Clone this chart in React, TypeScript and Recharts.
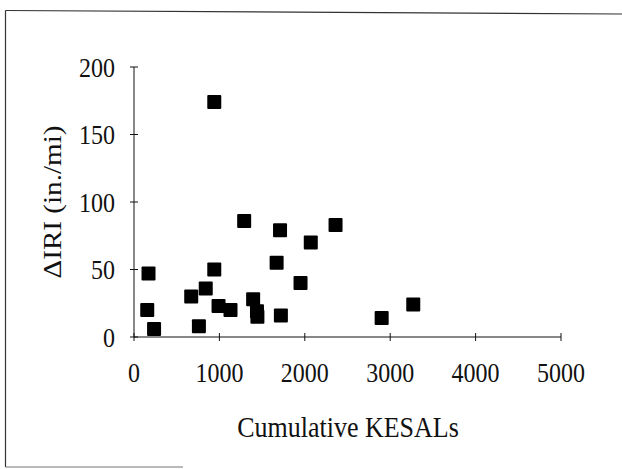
import { ScatterChart, Scatter, XAxis, YAxis, Label } from 'recharts';

const kesals = [170, 155, 235, 670, 760, 840, 940, 990, 1130, 1290, 1395, 1440, 1445, 1670, 1710, 1720, 1950, 2070, 2360, 2900, 3270, 940];
const deltaIri = [47, 20, 6, 30, 8, 36, 50, 23, 20, 86, 28, 19, 15, 55, 79, 16, 40, 70, 83, 14, 24, 174];
const xTicks = [0, 1000, 2000, 3000, 4000, 5000];
const yTicks = [0, 50, 100, 150, 200];

const points = kesals.map((x, i) => ({ x, y: deltaIri[i] }));

const serif = { fontFamily: "'Liberation Serif', 'Times New Roman', serif" };
const STRETCH = 1.12; // scan is a little taller than wide
const Y_GAP = 19;
const X_GAP = 27;

const YTick = ({ x, y, payload }: any) => (
  <g>
    <line x1={x + Y_GAP - 4} x2={x + Y_GAP + 4} y1={y} y2={y} stroke="#111" />
    <text
      transform={`translate(${x} ${y}) scale(1 ${STRETCH})`}
      dy="0.36em"
      textAnchor="end"
      style={serif}
      fontSize={24}
      fill="#111"
    >
      {payload.value}
    </text>
  </g>
);

const XTick = ({ x, y, payload }: any) => (
  <g>
    <line x1={x} x2={x} y1={y - X_GAP - 4} y2={y - X_GAP + 4} stroke="#111" />
    <text
      transform={`translate(${x} ${y - 1}) scale(1 ${STRETCH})`}
      dy="0.71em"
      textAnchor="middle"
      style={serif}
      fontSize={24}
      fill="#111"
    >
      {payload.value}
    </text>
  </g>
);

const Square = ({ cx, cy }: any) => <rect x={cx - 7} y={cy - 7} width={14} height={14} rx={1} fill="#000" />;

export default function App() {
  return (
    <div style={{ position: 'absolute', left: 0, top: 0, width: 622, height: 469, background: '#fff' }}>
      <svg width={622} height={469} style={{ position: 'absolute', left: 0, top: 0 }}>
        <line x1={5.5} y1={10.5} x2={622} y2={14} stroke="#333" strokeWidth={1.2} />
        <line x1={5.5} y1={10.5} x2={5.5} y2={467} stroke="#333" strokeWidth={1.2} />
        <line x1={5.5} y1={467} x2={183} y2={467} stroke="#777" strokeWidth={1.2} />
      </svg>
      <div style={{ position: 'absolute', left: 0, top: 0 }}>
        <ScatterChart width={622} height={469} margin={{ top: 67, right: 61, bottom: 72, left: 54 }}>
          <XAxis
            type="number"
            dataKey="x"
            domain={[0, 5000]}
            ticks={xTicks}
            height={60}
            tickSize={0}
            tickMargin={X_GAP}
            tickLine={false}
            tick={<XTick />}
            axisLine={{ stroke: '#111' }}
            interval={0}
          >
            <Label
              content={() => (
                <text
                  transform={`translate(348 437) scale(1 ${STRETCH})`}
                  textAnchor="middle"
                  style={serif}
                  fontSize={26}
                  fill="#111"
                >
                  Cumulative KESALs
                </text>
              )}
            />
          </XAxis>
          <YAxis
            type="number"
            dataKey="y"
            domain={[0, 200]}
            ticks={yTicks}
            width={80}
            tickSize={0}
            tickMargin={Y_GAP}
            tickLine={false}
            tick={<YTick />}
            axisLine={{ stroke: '#111' }}
            interval={0}
          >
            <Label
              content={() => (
                <text
                  transform={`translate(52 202) rotate(-90) scale(${STRETCH} 1)`}
                  textAnchor="middle"
                  dominantBaseline="central"
                  style={serif}
                  fontSize={26}
                  fill="#111"
                >
                  ΔIRI (in./mi)
                </text>
              )}
            />
          </YAxis>
          <Scatter data={points} shape={<Square />} isAnimationActive={false} />
        </ScatterChart>
      </div>
    </div>
  );
}
